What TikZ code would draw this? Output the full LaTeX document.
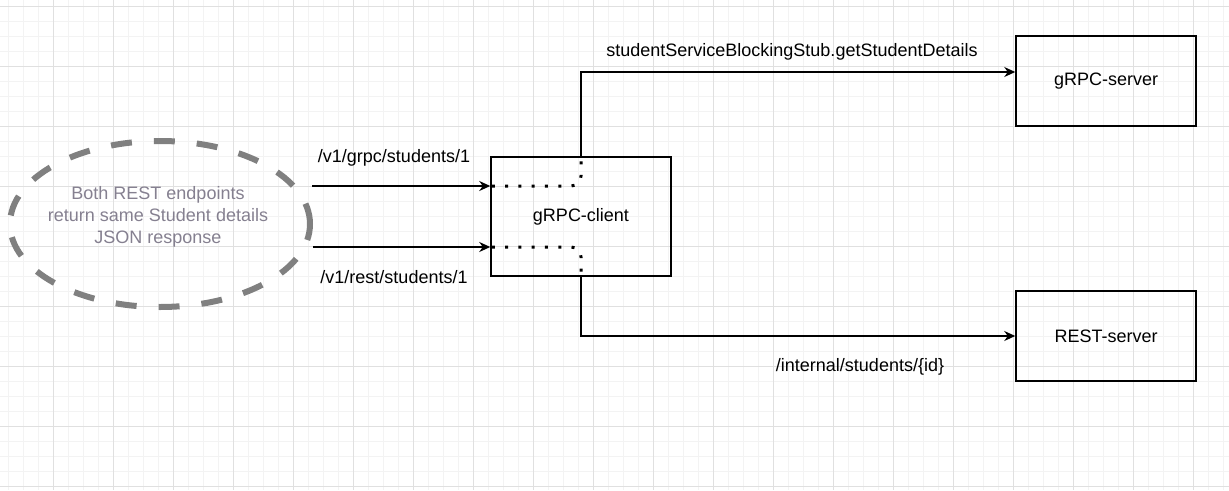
\documentclass[tikz,border=0pt]{standalone}
\usepackage{fontspec}
\setmainfont{Liberation Sans}
\usetikzlibrary{positioning}
\usetikzlibrary{shapes.geometric}
\usetikzlibrary{arrows.meta}
\usetikzlibrary{calc}
\definecolor{notegray}{HTML}{808080}
\definecolor{notetext}{HTML}{858090}
\definecolor{gridmajor}{HTML}{E0E0E0}
\definecolor{gridminor}{HTML}{F3F3F3}

\begin{document}
\begin{tikzpicture}[x=1pt,y=-1pt,
         outpt/.style={-{Stealth[length=11pt,width=10pt]},black,line width=1.5pt},
         dotln/.style={black,line width=3pt,dash pattern=on 3pt off 10.3pt,dash phase=-1.5pt,rounded corners=10pt},
         svcbox/.style={draw,line width=1.5pt,rectangle,minimum width=180pt,inner sep=0pt},
         notedash/.style={draw=notegray,line width=6pt,dash pattern=on 21pt off 22pt},
      every node/.append style={align=center,font=\fontsize{18}{22}\selectfont}]
      %
         \useasboundingbox (0,0) rectangle (1229,490);
         \fill[white] (0,0) rectangle (1229,490);
         % background grid
         \foreach \gx in {8,23,...,1228} \draw[gridminor,line width=1pt] (\gx,0) -- (\gx,490);
         \foreach \gy in {6,21,...,489} \draw[gridminor,line width=1pt] (0,\gy) -- (1229,\gy);
         \foreach \gx in {53,113,...,1228} \draw[gridmajor,line width=1pt] (\gx,0) -- (\gx,490);
         \foreach \gy in {6,66,...,489} \draw[gridmajor,line width=1pt] (0,\gy) -- (1229,\gy);
      %
         \draw[notedash] (160,224) ellipse [x radius=150pt,y radius=83pt];
         \node (note) at (158,217) [text=notetext,inner sep=0pt]
               {Both REST endpoints\\ return same Student details\\ JSON response};
      %
         \node (client) at (581,216.5) [svcbox,minimum height=119pt] {gRPC-client};
         \node (grpcsrv) at (1106,81) [svcbox,minimum height=90pt] {gRPC-server};
         \node (restsrv) at (1106,336) [svcbox,minimum height=90pt] {REST-server};
      %
         \coordinate (grpcin) at (312,186);
         \coordinate (restin) at (313,247);
         \draw[outpt](grpcin)--(grpcin -| client.west);
         \draw[outpt](restin)--(restin -| client.west);
         \draw[dotln](grpcin -| client.west) -| (client.north);
         \draw[dotln](restin -| client.west) -| (client.south);
      %%
         \draw[outpt](client.north) |- ([yshift=9pt]grpcsrv.west);
         \draw[outpt](client.south) |- (restsrv.west);
      %
         \node (grpclbl) at (394,158) {/v1/grpc/students/1};
         \node (restlbl) at (394,277) {/v1/rest/students/1};
         \node (stublbl) at (792,52) {studentServiceBlockingStub.getStudentDetails};
         \node (intlbl) at (860,367) {/internal/students/\{id\}};
   \end{tikzpicture}
\end{document}
